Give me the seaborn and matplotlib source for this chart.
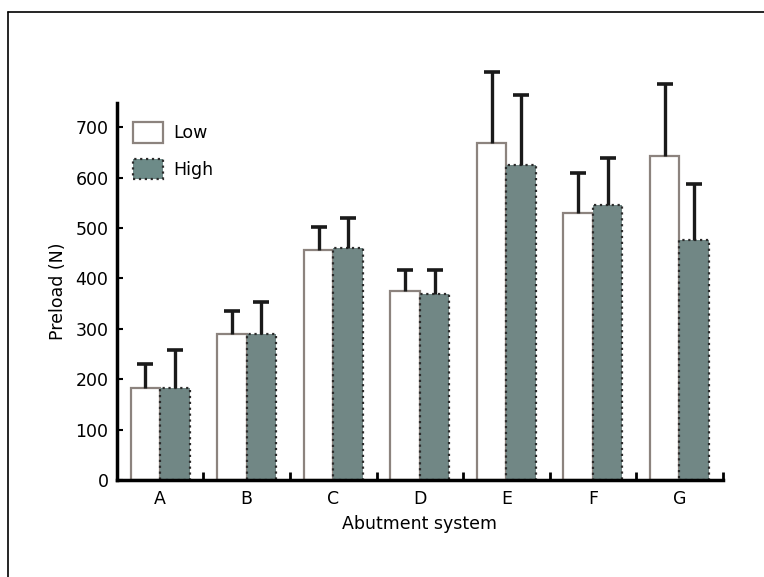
import seaborn as sns
import pandas as pd
import matplotlib.pyplot as plt
from matplotlib.lines import Line2D

# values
systems = ['A', 'B', 'C', 'D', 'E', 'F', 'G']
low_mean = [182, 290, 456, 375, 669, 530, 643]
low_sd = [48, 45, 46, 42, 141, 79, 143]
high_mean = [183, 290, 460, 370, 625, 546, 476]
high_sd = [75, 63, 60, 47, 138, 93, 111]

df = pd.DataFrame({
    'system': systems * 2,
    'preload': low_mean + high_mean,
    'group': ['Low'] * 7 + ['High'] * 7,
})
sd = {'Low': low_sd, 'High': high_sd}

sns.set_style('ticks')
plt.rcParams['font.family'] = ['DejaVu Sans']
plt.rcParams['text.color'] = 'black'
plt.rcParams['axes.labelcolor'] = 'black'
plt.rcParams['xtick.color'] = 'black'
plt.rcParams['ytick.color'] = 'black'
plt.rcParams['axes.edgecolor'] = 'black'

fs = 12.5

fig = plt.figure(figsize=(7.64, 5.77), dpi=100)
ax = fig.add_axes([0.153, 0.168, 0.793, 0.6535])

palette = {'Low': 'white', 'High': '#6d8b88'}
sns.barplot(data=df, x='system', y='preload', hue='group', palette=palette,
            order=systems, hue_order=['Low', 'High'], width=0.68,
            errorbar=None, ax=ax, legend=False)

edges = {'Low': '#8c837e', 'High': '#2b2b2b'}
styles = {'Low': '-', 'High': ':'}
for cont, name in zip(ax.containers, ['Low', 'High']):
    xs, ys = [], []
    for bar in cont:
        bar.set_edgecolor(edges[name])
        bar.set_linewidth(1.6)
        bar.set_linestyle(styles[name])
        xs.append(bar.get_x() + bar.get_width() / 2)
        ys.append(bar.get_height())
    tops = [y + s for y, s in zip(ys, sd[name])]
    # upper half of the error bar only, cap at the top
    ax.vlines(xs, ys, tops, color='#1a1a1a', lw=2.4, clip_on=False, zorder=1)
    ax.plot(xs, tops, ls='none', marker='_', ms=11, mew=2.6, color='#1a1a1a',
            clip_on=False, zorder=1)

ax.set_xlim(-0.5, 6.5)
ax.set_ylim(0, 748)
ax.set_yticks(range(0, 701, 100))
ax.set_xticks(range(7))
ax.set_xticks([i + 0.5 for i in range(7)], minor=True)
ax.tick_params(axis='x', which='major', length=0, labelsize=fs, pad=7)
ax.tick_params(axis='x', which='minor', direction='in', length=6, width=2)
ax.tick_params(axis='y', direction='in', length=4, width=1.5, labelsize=fs, pad=6)

for s in ['top', 'right']:
    ax.spines[s].set_visible(False)
ax.spines['left'].set_linewidth(2.5)
ax.spines['bottom'].set_linewidth(2.5)

ax.set_xlabel('Abutment system', fontsize=fs, labelpad=5)
ax.set_ylabel('Preload (N)', fontsize=fs, labelpad=6)

handles = [plt.Rectangle((0, 0), 1, 1, facecolor='white', edgecolor='#8c837e', lw=1.6),
           plt.Rectangle((0, 0), 1, 1, facecolor='#6d8b88', edgecolor='#2b2b2b', lw=1.6, ls=':')]
ax.legend(handles, ['Low', 'High'], loc='upper left', bbox_to_anchor=(0.0, 0.99),
          frameon=False, fontsize=fs, handlelength=1.75, handleheight=1.45,
          labelspacing=0.9, handletextpad=0.6)

# frame lines around the picture (top and left only)
fig.add_artist(Line2D([0.0105, 1.0], [0.979, 0.979], color='black', lw=1.2))
fig.add_artist(Line2D([0.0105, 0.0105], [0.0, 0.979], color='black', lw=1.2))

fig.savefig('out.png', dpi=100)
